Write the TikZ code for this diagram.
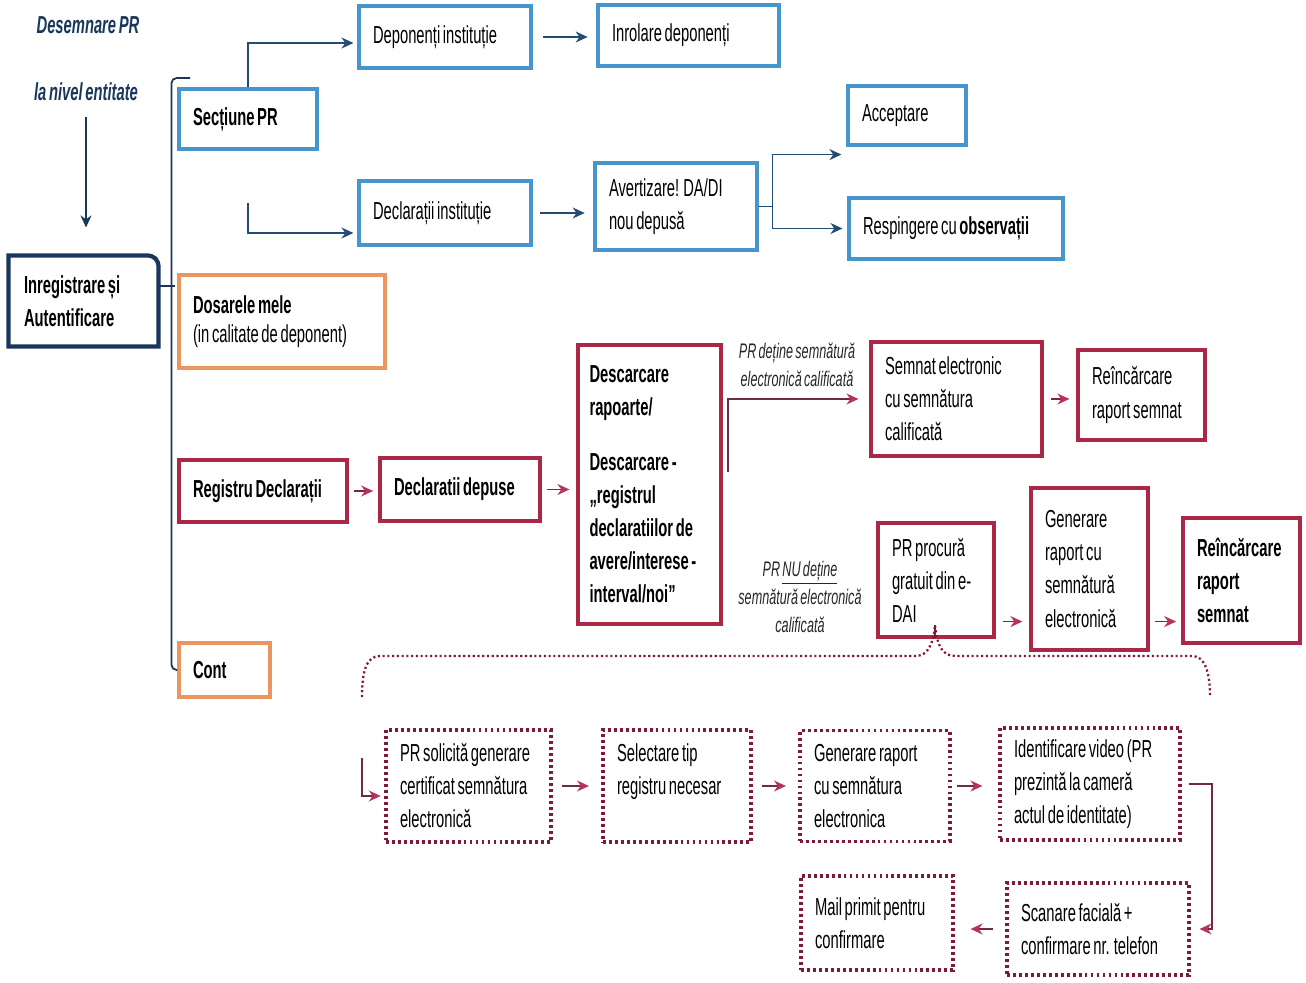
\documentclass[tikz,border=0pt]{standalone}
\usepackage{fontspec}
\setmainfont{Liberation Sans}[FakeStretch=0.6, WordSpace=0.65]
\usetikzlibrary{arrows.meta,positioning}
\hyphenpenalty=10000
\exhyphenpenalty=10000

\definecolor{boxblue}{RGB}{70,150,205}
\definecolor{boxred}{RGB}{170,40,70}
\definecolor{boxorange}{RGB}{235,150,95}
\definecolor{boxnavy}{RGB}{25,55,90}
\definecolor{dotred}{RGB}{125,25,60}
\definecolor{arrnavy}{RGB}{35,75,115}
\definecolor{arrred}{RGB}{185,50,90}
\definecolor{linered}{RGB}{110,45,60}

\begin{document}
\begin{tikzpicture}[x=0.02cm, y=-0.02cm,
    box/.style={line width=1.8pt, inner xsep=0.28cm, inner ysep=2pt, align=flush left,
      font=\fontsize{14}{18.8}\selectfont},
    boldtext/.style={font=\fontsize{14}{18.8}\selectfont\bfseries},
    bluebox/.style={box, draw=boxblue},
    redbox/.style={box, draw=boxred},
    orangebox/.style={box, draw=boxorange},
    dotbox/.style={box, draw=dotred, line width=2pt, dash pattern=on 1.6pt off 1.8pt},
    navyarrow/.style={-{Stealth[length=2.4mm,width=2.2mm]}, draw=arrnavy, line width=0.9pt},
    redarrow/.style={-{Stealth[length=2.4mm,width=2.2mm,color=arrred]}, draw=linered, line width=0.9pt},
    cond/.style={font=\fontsize{12}{16}\selectfont\itshape, align=center, text=black!85},
    heading/.style={font=\fontsize{14}{18}\selectfont\bfseries\itshape, text=boxnavy}
  ]
    \useasboundingbox (0,0) rectangle (1306,983);

    % left column
    \node[heading] (desem) at (88,25) {Desemnare PR};
    \node[heading] (lanivel) at (86,92) {la nivel entitate};
    \node[box, boldtext, minimum width=2.94cm, minimum height=1.76cm, text width=2.38cm] (inreg) at (83.5,301) {Inregistrare și\\Autentificare};
    \draw[draw=boxnavy, line width=2.4pt] (inreg.south west) -- (inreg.north west)
      -- ([xshift=-0.25cm]inreg.north east)
      .. controls ([xshift=-0.08cm]inreg.north east) and ([yshift=-0.08cm]inreg.north east) .. ([yshift=-0.25cm]inreg.north east)
      -- (inreg.south east) -- cycle;
    \draw[-{Stealth[length=2.4mm,width=2.2mm]}, draw=boxnavy, line width=0.9pt, shorten <=0.2cm, shorten >=0.56cm] (lanivel.south) -- (lanivel.south |- inreg.north);

    % second column
    \node[bluebox, boldtext, minimum width=2.76cm, minimum height=1.2cm, text width=2.2cm] (sect) at (248,119) {Secțiune PR};
    \node[orangebox, minimum width=4.12cm, minimum height=1.86cm, text width=3.56cm, font=\fontsize{14}{16.5}\selectfont] (dosare) at (282,321.5) {\textbf{Dosarele mele}\\(in calitate de deponent)};
    \node[redbox, boldtext, minimum width=3.36cm, minimum height=1.24cm, text width=2.8cm] (regdecl) at (263,491) {Registru Declarații};
    \node[orangebox, boldtext, minimum width=1.82cm, minimum height=1.08cm, text width=1.26cm] (cont) at (224.5,670) {Cont};

    \draw[boxnavy, line width=1pt] ([yshift=0.3cm]inreg.east) -- ++(16,0);
    \coordinate (brtop) at (190,78);
    \draw[boxnavy, line width=1pt, rounded corners=3pt] (brtop) -| ([xshift=-0.12cm]cont.west) -- (cont.west);

    % blue part
    \node[bluebox, minimum width=3.44cm, minimum height=1.24cm, text width=2.88cm] (depinst) at (445,37) {Deponenți instituție};
    \node[bluebox, minimum width=3.62cm, minimum height=1.22cm, text width=3.06cm] (inrol) at (688.5,35.5) {Inrolare deponenți};
    \node[bluebox, minimum width=3.44cm, minimum height=1.28cm, text width=2.88cm] (declinst) at (445,213) {Declarații instituție};
    \node[bluebox, minimum width=3.24cm, minimum height=1.74cm, text width=2.68cm] (avert) at (676,206.5) {Avertizare! DA/DI\\nou depusă};
    \node[bluebox, minimum width=2.36cm, minimum height=1.18cm, text width=1.8cm] (accept) at (907,115.5) {Acceptare};
    \node[bluebox, minimum width=4.28cm, minimum height=1.22cm, text width=3.72cm] (resp) at (956,228.5) {Respingere cu \textbf{observații}};

    \draw[navyarrow] (sect.north) |- ([yshift=-0.12cm,xshift=-0.08cm]depinst.west);
    \draw[navyarrow, shorten <=6pt, shorten >=5pt] (depinst.east) -- (depinst.east -| inrol.west);
    \coordinate (declstart) at (248,203);
    \draw[navyarrow] (declstart) |- ([yshift=-0.4cm,xshift=-0.08cm]declinst.west);
    \draw[navyarrow, shorten <=4pt, shorten >=5pt] (declinst.east) -- (declinst.east -| avert.west);
    \draw[navyarrow] (avert.east) -- ++(14,0) coordinate (fork) |- ([xshift=-0.1cm,yshift=-0.16cm]accept.south west);
    \draw[navyarrow] (fork) |- ([xshift=-0.1cm]resp.west);

    % red part
    \node[redbox, boldtext, minimum width=3.2cm, minimum height=1.26cm, text width=2.64cm] (decdep) at (460,489.5) {Declaratii depuse};
    \node[redbox, boldtext, minimum width=2.86cm, minimum height=5.58cm, text width=2.4cm, inner xsep=0.23cm] (desc) at (649.5,484.5)
      {Descarcare\\rapoarte/\\[0.44cm]Descarcare -\\„registrul\\declaratiilor de\\avere/interese -\\interval/noi”};
    \node[redbox, minimum width=3.42cm, minimum height=2.28cm, text width=2.86cm] (semnat) at (956.5,399) {Semnat electronic\\cu semnătura\\calificată};
    \node[redbox, minimum width=2.54cm, minimum height=1.8cm, text width=1.98cm] (reinc1) at (1141.5,395) {Reîncărcare\\raport semnat};
    \node[redbox, minimum width=2.32cm, minimum height=2.28cm, text width=1.76cm] (prproc) at (936,580) {PR procură\\gratuit din e-\\DAI};
    \node[redbox, minimum width=2.34cm, minimum height=3.24cm, text width=1.78cm] (genrap) at (1089.5,569) {Generare\\raport cu\\semnătură\\electronică};
    \node[redbox, boldtext, minimum width=2.34cm, minimum height=2.5cm, text width=1.78cm] (reinc2) at (1241.5,580.5) {Reîncărcare\\raport\\semnat};

    \node[cond] (lblyes) at (797,365) {PR deține semnătură\\electronică calificată};
    \node[cond] (lblno) at (800,597) {PR \underline{NU deține}\\semnătură electronică\\calificată};

    \draw[redarrow, shorten <=3pt, shorten >=3pt] (regdecl.east) -- (regdecl.east -| decdep.west);
    \draw[redarrow, shorten <=3pt, shorten >=4pt] (decdep.east) -- (decdep.east -| desc.west);
    \coordinate (descsplit) at (728,472);
    \draw[redarrow] (descsplit) |- ([xshift=-0.22cm]semnat.west);
    \draw[redarrow, shorten <=4pt, shorten >=4pt] (semnat.east) -- (semnat.east -| reinc1.west);
    \draw[redarrow, shorten <=4pt, shorten >=4pt] ([yshift=0.34cm]prproc.south east) coordinate (p1) -- (p1 -| genrap.west);
    \draw[redarrow, shorten <=3pt, shorten >=3pt] ([yshift=0.6cm]genrap.south east) coordinate (g1) -- (g1 -| reinc2.west);

    % dotted brace
    \draw[dotred, line width=1.3pt, dash pattern=on 1.2pt off 1.5pt]
      (362,697) .. controls (362,672) and (366,656) .. (380,656) -- (915,656)
      .. controls (928,656) and (933,645) .. (935,625)
      .. controls (937,645) and (942,656) .. (955,656) -- (1192,656)
      .. controls (1205,656) and (1210,672) .. (1210,697);
    \draw[dotred, line width=0.9pt] (935,625) -- (prproc.south -| 935,0) -- ++(0,-12);

    % dotted boxes
    \node[dotbox, minimum width=3.3cm, minimum height=2.24cm, text width=2.74cm] (solic) at (468.5,786) {PR solicită generare\\certificat semnătura\\electronică};
    \node[dotbox, minimum width=2.96cm, minimum height=2.24cm, text width=2.4cm] (selec) at (677,786) {Selectare tip\\registru necesar\\~};
    \node[dotbox, minimum width=3.0cm, minimum height=2.22cm, text width=2.44cm] (genel) at (875,786) {Generare raport\\cu semnătura\\electronica};
    \node[dotbox, minimum width=3.6cm, minimum height=2.24cm, text width=3.04cm] (ident) at (1090,784) {Identificare video (PR\\prezintă la cameră\\actul de identitate)};
    \node[dotbox, minimum width=3.64cm, minimum height=1.84cm, text width=3.08cm] (scan) at (1098,929) {Scanare facială +\\confirmare nr. telefon};
    \node[dotbox, minimum width=3.04cm, minimum height=1.88cm, text width=2.48cm] (mail) at (877,923) {Mail primit pentru\\confirmare};

    \coordinate (dotstart) at (362,758);
    \draw[redarrow, shorten >=2pt] (dotstart) |- ([yshift=-0.2cm]solic.west);
    \draw[redarrow, shorten <=5pt, shorten >=7pt] (solic.east) -- (solic.east -| selec.west);
    \draw[redarrow, shorten <=5pt, shorten >=7pt] (selec.east) -- (selec.east -| genel.west);
    \draw[redarrow, shorten <=3pt, shorten >=9pt] (genel.east) -- (genel.east -| ident.west);
    \draw[redarrow, shorten >=5pt] ([xshift=0.14cm]ident.east) -- ++(23,0) |- (scan.east);
    \draw[redarrow, shorten <=7pt, shorten >=9pt] (scan.west) -- (scan.west -| mail.east);
  \end{tikzpicture}
\end{document}
